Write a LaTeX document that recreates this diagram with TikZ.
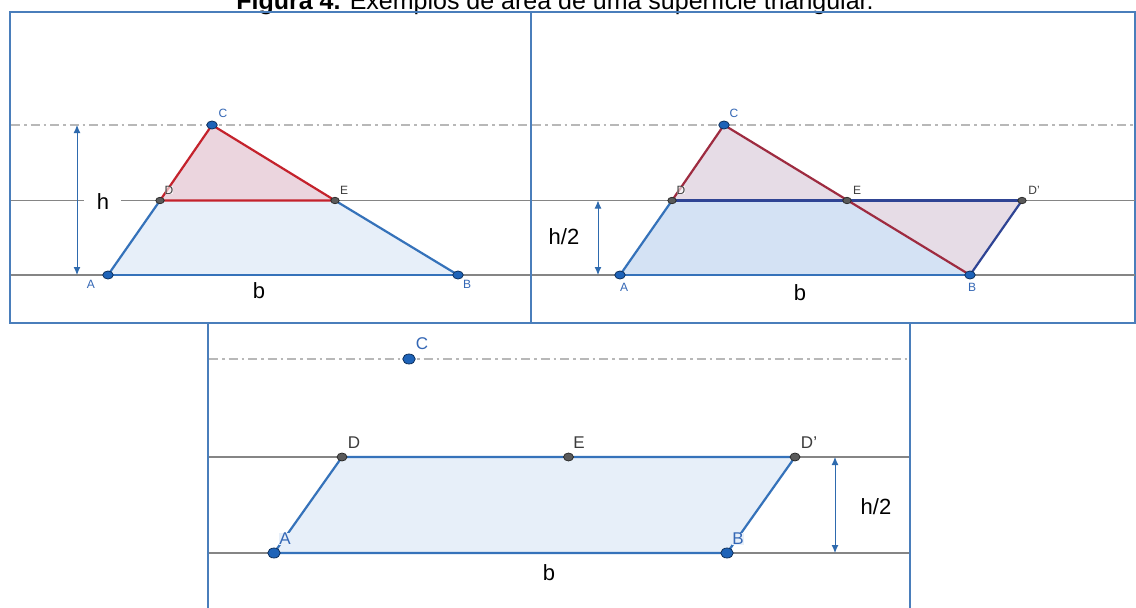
\documentclass[tikz,border=0pt]{standalone}
\usepackage{fontspec}
\setmainfont{Liberation Sans}
\usetikzlibrary{arrows.meta,shapes.geometric}
\definecolor{framec}{HTML}{4A7EBB}
\definecolor{linegray}{HTML}{858585}
\definecolor{ddgray}{HTML}{B8B8B8}
\definecolor{fillblue}{HTML}{E7EFF9}
\definecolor{fillblueb}{HTML}{D4E2F4}
\definecolor{fillpink}{HTML}{EBD5DE}
\definecolor{fillmauve}{HTML}{E6DCE6}
\definecolor{edgeblue}{HTML}{3572BA}
\definecolor{edgered}{HTML}{C4222C}
\definecolor{edgemaroon}{HTML}{9E2B40}
\definecolor{edgenavy}{HTML}{2F4494}
\definecolor{ptblue}{HTML}{1E63B8}
\definecolor{ptdark}{HTML}{10325E}
\definecolor{ptgray}{HTML}{5A5A5A}
\definecolor{labblue}{HTML}{3467B5}
\definecolor{labgray}{HTML}{3C3C3C}
\definecolor{dimblue}{HTML}{2E6AAE}
\begin{document}
\begin{tikzpicture}[x=1pt,y=-1pt,
  frame/.style={draw=framec, line width=1.5pt},
  gline/.style={draw=linegray, line width=1.8pt},
  ddline/.style={draw=ddgray, line width=1.4pt, dash pattern=on 9pt off 4pt on 2.5pt off 4pt},
  bpt/.style={ellipse, fill=ptblue, draw=ptdark, line width=0.8pt, inner sep=0pt, minimum width=10.5pt, minimum height=8pt},
  gpt/.style={ellipse, fill=ptgray, draw=black!85, line width=0.7pt, inner sep=0pt, minimum width=8.5pt, minimum height=6.5pt},
  bptL/.style={bpt, minimum width=12.5pt, minimum height=10pt},
  gptL/.style={gpt, minimum width=10pt, minimum height=8pt},
  blab/.style={text=labblue, inner sep=0pt, font=\fontsize{12}{12}\selectfont},
  glab/.style={text=labgray, inner sep=0pt, font=\fontsize{12}{12}\selectfont},
  blabL/.style={text=labblue, inner sep=0pt, font=\fontsize{17}{17}\selectfont},
  glabL/.style={text=labgray, inner sep=0pt, font=\fontsize{17}{17}\selectfont},
  big/.style={inner sep=0pt, font=\fontsize{22}{22}\selectfont},
  dimarrow/.style={draw=dimblue, line width=1pt, {Latex[length=8pt,width=7pt]}-{Latex[length=8pt,width=7pt]}},
  eblue/.style={draw=edgeblue, line width=2.2pt},
  ered/.style={draw=edgered, line width=2.2pt},
  emaroon/.style={draw=edgemaroon, line width=2.2pt},
  enavy/.style={draw=edgenavy, line width=2.2pt}]
\useasboundingbox (0,0) rectangle (1136,608);
\fill[white] (0,0) rectangle (1136,608);

% title
\node[anchor=base, inner sep=0pt, font=\fontsize{25}{25}\selectfont] (title) at (555,9.5)
  {\textbf{Figura 4.} Exemplos de área de uma superfície triangular.};

% frames
\draw[frame] (10,12) rectangle (531,323);
\draw[frame] (531,12) rectangle (1135,323);
\draw[frame] (208,610) -- (208,323) -- (910,323) -- (910,610);

% ---------- panel 1 ----------
\coordinate (L1a) at (11,125);   \coordinate (R1a) at (530,125);
\coordinate (L1b) at (11,200.5); \coordinate (G1l) at (84,200.5);
\coordinate (G1r) at (121,200.5); \coordinate (R1b) at (530,200.5);
\coordinate (L1c) at (11,275);   \coordinate (R1c) at (530,275);
\draw[ddline] (L1a) -- (R1a);
\draw[gline] (L1b) -- (G1l);
\draw[gline] (G1r) -- (R1b);
\draw[gline] (L1c) -- (R1c);

\coordinate (A1) at (108,275);
\coordinate (B1) at (458,275);
\coordinate (C1) at (212,125);
\coordinate (D1) at (160,200.5);
\coordinate (E1) at (335,200.5);
\fill[fillblue] (A1) -- (D1) -- (E1) -- (B1) -- cycle;
\fill[fillpink] (C1) -- (D1) -- (E1) -- cycle;
\draw[eblue] (A1) -- (D1);
\draw[eblue] (E1) -- (B1);
\draw[eblue] (A1) -- (B1);
\draw[ered] (D1) -- (C1) -- (E1) -- cycle;

\coordinate (H1t) at (77,125);
\coordinate (H1b) at (77,275);
\draw[dimarrow] (H1t) -- (H1b);
\node[big] (h1) at (103,202) {h};
\node[big] (b1) at (259,291) {b};

\node[bpt] (pA1) at (A1) {};
\node[bpt] (pB1) at (B1) {};
\node[bpt] (pC1) at (C1) {};
\node[gpt] (pD1) at (D1) {};
\node[gpt] (pE1) at (E1) {};
\node[blab] (lA1) at (91,284) {A};
\node[blab] (lB1) at (467,284) {B};
\node[blab] (lC1) at (223,113) {C};
\node[glab, fill=white, fill opacity=0.6, text opacity=1] (lD1) at (169,190) {D};
\node[glab] (lE1) at (344,190) {E};

% ---------- panel 2 ----------
\coordinate (L2a) at (532,125);   \coordinate (R2a) at (1135,125);
\coordinate (L2b) at (532,200.5); \coordinate (R2b) at (1135,200.5);
\coordinate (L2c) at (532,275);   \coordinate (R2c) at (1135,275);
\draw[ddline] (L2a) -- (R2a);
\draw[gline] (L2b) -- (R2b);
\draw[gline] (L2c) -- (R2c);

\coordinate (A2) at (620,275);
\coordinate (B2) at (970,275);
\coordinate (C2) at (724,125);
\coordinate (D2) at (672,200.5);
\coordinate (E2) at (847,200.5);
\coordinate (Dp2) at (1022,200.5);
\fill[fillblueb] (A2) -- (D2) -- (E2) -- (B2) -- cycle;
\fill[fillmauve] (C2) -- (D2) -- (E2) -- cycle;
\fill[fillmauve] (E2) -- (Dp2) -- (B2) -- cycle;
\draw[eblue] (A2) -- (D2);
\draw[eblue] (A2) -- (B2);
\draw[enavy] (D2) -- (Dp2);
\draw[enavy] (Dp2) -- (B2);
\draw[emaroon] (D2) -- (C2) -- (B2);

\coordinate (H2t) at (598,200.5);
\coordinate (H2b) at (598,275);
\draw[dimarrow] (H2t) -- (H2b);
\node[big] (h2) at (564,237) {h/2};
\node[big] (b2) at (800,293) {b};

\node[bpt] (pA2) at (A2) {};
\node[bpt] (pB2) at (B2) {};
\node[bpt] (pC2) at (C2) {};
\node[gpt] (pD2) at (D2) {};
\node[gpt] (pE2) at (E2) {};
\node[gpt] (pDp2) at (Dp2) {};
\node[blab] (lA2) at (624,287) {A};
\node[blab] (lB2) at (972,287) {B};
\node[blab] (lC2) at (734,113) {C};
\node[glab, fill=white, fill opacity=0.6, text opacity=1] (lD2) at (681,190) {D};
\node[glab] (lE2) at (857,190) {E};
\node[glab] (lDp2) at (1034,190) {D'};

% ---------- panel 3 ----------
\coordinate (L3a) at (209,359);   \coordinate (R3a) at (909,359);
\coordinate (L3b) at (209,457);   \coordinate (R3b) at (909,457);
\coordinate (L3c) at (209,553);   \coordinate (R3c) at (909,553);
\draw[ddline] (L3a) -- (R3a);
\draw[gline] (L3b) -- (R3b);
\draw[gline] (L3c) -- (R3c);

\coordinate (A3) at (274,553);
\coordinate (B3) at (727,553);
\coordinate (C3) at (409,359);
\coordinate (D3) at (342,457);
\coordinate (E3) at (568.5,457);
\coordinate (Dp3) at (795,457);
\fill[fillblue] (A3) -- (D3) -- (Dp3) -- (B3) -- cycle;
\draw[eblue] (A3) -- (D3) -- (Dp3) -- (B3) -- cycle;

\coordinate (H3t) at (835,457);
\coordinate (H3b) at (835,553);
\draw[dimarrow] (H3t) -- (H3b);
\node[big] (h3) at (876,507) {h/2};
\node[big] (b3) at (549,573) {b};

\node[bptL] (pA3) at (A3) {};
\node[bptL] (pB3) at (B3) {};
\node[bptL] (pC3) at (C3) {};
\node[gptL] (pD3) at (D3) {};
\node[gptL] (pE3) at (E3) {};
\node[gptL] (pDp3) at (Dp3) {};
\node[blabL, fill=fillblue] (lA3) at (285,539) {A};
\node[blabL, fill=fillblue] (lB3) at (738,539) {B};
\node[blabL] (lC3) at (422,344) {C};
\node[glabL] (lD3) at (354,443) {D};
\node[glabL] (lE3) at (579,443) {E};
\node[glabL] (lDp3) at (809,443) {D'};
\end{tikzpicture}
\end{document}
